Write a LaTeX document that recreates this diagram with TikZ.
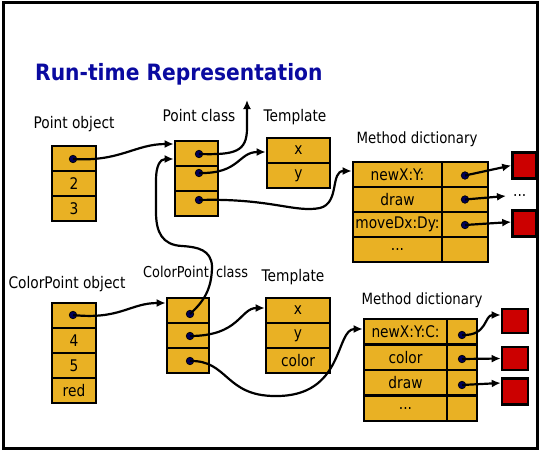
\documentclass[tikz,border=0pt]{standalone}
\usepackage{fontspec}
\setmainfont{DejaVu Sans}[FakeStretch=0.86]
\usetikzlibrary{arrows.meta}
\definecolor{gold}{RGB}{233,177,36}
\definecolor{boxred}{RGB}{204,0,0}
\definecolor{titleblue}{RGB}{10,10,160}
\definecolor{navy}{RGB}{0,0,90}
\begin{document}
\begin{tikzpicture}[x=1pt,y=-1pt,
  cell/.style={draw=black, line width=2.6pt, fill=gold, inner sep=0pt, minimum height=25pt, font=\fontsize{16}{18}\selectfont},
  lbl/.style={anchor=base, inner sep=0pt, font=\fontsize{16}{18}\selectfont},
  dotn/.style={circle, fill=navy, draw=black, line width=0.7pt, minimum size=7.5pt, inner sep=0pt},
  redbox/.style={draw=black, line width=2.6pt, fill=boxred, minimum width=24pt, minimum height=26pt, inner sep=0pt},
  link/.style={line width=2.2pt, -{Latex[length=9pt,width=8pt]}},
]
\useasboundingbox (0,0) rectangle (539,450);
\draw[line width=2.5pt] (3.3,2.5) rectangle (537.5,448.5);

% title
\node[anchor=base west, inner sep=0pt, font=\fontsize{22.5}{26}\selectfont\bfseries\addfontfeatures{FakeStretch=0.9}, text=titleblue] (title) at (35,80) {Run-time Representation};

% labels
\node[lbl] (lpo) at (74,128) {Point object};
\node[lbl] (lpc) at (199,121) {Point class};
\node[lbl] (ltp1) at (295,121) {Template};
\node[lbl, font=\fontsize{15.5}{17}\selectfont] (lmd1) at (417,143) {Method dictionary};
\node[lbl] (lco) at (67,288) {ColorPoint object};
\node[lbl, anchor=base west, font=\fontsize{15}{17}\selectfont] (lcc) at (143,277) {ColorPoint\hspace{3pt} class};
\node[lbl] (ltp2) at (293,281) {Template};
\node[lbl, font=\fontsize{15.5}{17}\selectfont] (lmd2) at (422,304) {Method dictionary};

% Point object
\node[cell, minimum width=44pt] (po1) at (74,158.5) {};
\node[cell, minimum width=44pt] (po2) at (74,183.5) {2};
\node[cell, minimum width=44pt] (po3) at (74,208.5) {3};
\node[dotn] (po1d) at (73,159) {};

% Point class
\node[cell, minimum width=43pt] (pc1) at (196.5,153.5) {};
\node[cell, minimum width=43pt] (pc2) at (196.5,178.5) {};
\node[cell, minimum width=43pt] (pc3) at (196.5,203.5) {};
\node[dotn] (pc1d) at (199,154) {};
\node[dotn] (pc2d) at (199,173) {};
\node[dotn] (pc3d) at (199,200) {};
\coordinate (up) at (247,100);

% Template (Point)
\node[cell, minimum width=63pt] (tp1) at (298.5,150.5) {x};
\node[cell, minimum width=63pt] (tp2) at (298.5,175.5) {y};

% Method dictionary (Point)
\node[cell, minimum width=89pt] (md1) at (397.5,174.5) {newX:Y:};
\node[cell, minimum width=89pt] (md2) at (397.5,199.5) {draw};
\node[cell, minimum width=89pt] (md3) at (397.5,224.5) {moveDx:Dy:};
\node[cell, minimum width=89pt] (md4) at (397.5,249.5) {...};
\node[cell, minimum width=46pt] (mr1) at (465,174.5) {};
\node[cell, minimum width=46pt] (mr2) at (465,199.5) {};
\node[cell, minimum width=46pt] (mr3) at (465,224.5) {};
\node[cell, minimum width=46pt] (mr4) at (465,249.5) {};
\node[dotn] (mr1d) at (465,175.5) {};
\node[dotn] (mr2d) at (465,199.5) {};
\node[dotn] (mr3d) at (465,225) {};
\node[redbox] (red1) at (524.5,165.5) {};
\node[redbox] (red2) at (524.5,223.5) {};
\node[anchor=west, inner sep=0pt, font=\fontsize{16}{18}\selectfont] (pdots) at (513,196) {...};

% ColorPoint object
\node[cell, minimum width=44pt] (co1) at (74,315.5) {};
\node[cell, minimum width=44pt] (co2) at (74,340.5) {4};
\node[cell, minimum width=44pt] (co3) at (74,365.5) {5};
\node[cell, minimum width=44pt] (co4) at (74,390.5) {red};
\node[dotn] (co1d) at (73,315) {};

% ColorPoint class
\node[cell, minimum width=42pt] (cp1) at (188,310.5) {};
\node[cell, minimum width=42pt] (cp2) at (188,335.5) {};
\node[cell, minimum width=42pt] (cp3) at (188,360.5) {};
\node[dotn] (cp1d) at (190,314) {};
\node[dotn] (cp2d) at (190,336) {};
\node[dotn] (cp3d) at (190,361) {};

% Template (ColorPoint)
\node[cell, minimum width=64pt] (tq1) at (298,310.5) {x};
\node[cell, minimum width=64pt] (tq2) at (298,335.5) {y};
\node[cell, minimum width=64pt] (tq3) at (298,360.5) {color};

% Method dictionary (ColorPoint)
\node[cell, minimum width=83pt, minimum height=25.5pt] (mq1) at (405.5,331.75) {newX:Y:C:};
\node[cell, minimum width=83pt, minimum height=25.5pt] (mq2) at (405.5,357.25) {color};
\node[cell, minimum width=83pt, minimum height=25.5pt] (mq3) at (405.5,382.75) {draw};
\node[cell, minimum width=83pt, minimum height=25.5pt] (mq4) at (405.5,408.25) {...};
\node[cell, minimum width=30pt, minimum height=25.5pt] (ms1) at (462,331.75) {};
\node[cell, minimum width=30pt, minimum height=25.5pt] (ms2) at (462,357.25) {};
\node[cell, minimum width=30pt, minimum height=25.5pt] (ms3) at (462,382.75) {};
\node[cell, minimum width=30pt, minimum height=25.5pt] (ms4) at (462,408.25) {};
\node[dotn] (ms1d) at (462,335) {};
\node[dotn] (ms2d) at (462,359) {};
\node[dotn] (ms3d) at (462,385) {};
\node[redbox, minimum width=26pt, minimum height=24pt] (rq1) at (515,321) {};
\node[redbox, minimum width=26pt, minimum height=23pt] (rq2) at (515,358.5) {};
\node[redbox, minimum width=26pt, minimum height=26pt] (rq3) at (515,391.5) {};

% connectors
\draw[link] (po1d.center) .. controls (120,162) and (135,144) .. ([yshift=9.5pt]pc1.west);
\draw[link] (pc1d.center) .. controls (235,155) and (247,152) .. (247,128) -- (up);
\draw[link] (pc2d.center) .. controls (240,174) and (238,152) .. ([yshift=-1.5pt]tp1.west);
\draw[link] (pc3d.center) .. controls (270,198) and (295,213) .. (320,208) .. controls (340,203) and (330,171) .. ([yshift=3.5pt]md1.west);
\draw[link] (cp1d.center) .. controls (203,302) and (212,290) .. (212,266) .. controls (211,250) and (198,247) .. (182,246) .. controls (162,245) and (156,232) .. (156,212) -- (156,180) .. controls (156,166) and (160,159) .. ([yshift=-5.5pt]pc1.west);
\draw[link] (co1d.center) .. controls (120,320) and (130,303) .. ([yshift=7.5pt]cp1.west);
\draw[link] (cp2d.center) .. controls (240,336) and (240,308) .. ([yshift=2.5pt]tq1.west);
\draw[link] (cp3d.center) .. controls (228,360) and (225,396) .. (275,396) .. controls (345,397) and (335,329) .. ([yshift=2.75pt]mq1.west);

\draw[link] (mr1d.center) -- (red1.west);
\draw[link] (mr2d.center) -- ([xshift=-7pt]pdots.west);
\draw[link] (mr3d.center) -- ([yshift=1.5pt]red2.west);
\draw[link] (ms1d.center) .. controls (488,336) and (484,315) .. ([yshift=6pt]rq1.west);
\draw[link] (ms2d.center) -- (rq2.west);
\draw[link] (ms3d.center) -- ([yshift=8.5pt]rq3.west);
\end{tikzpicture}
\end{document}
